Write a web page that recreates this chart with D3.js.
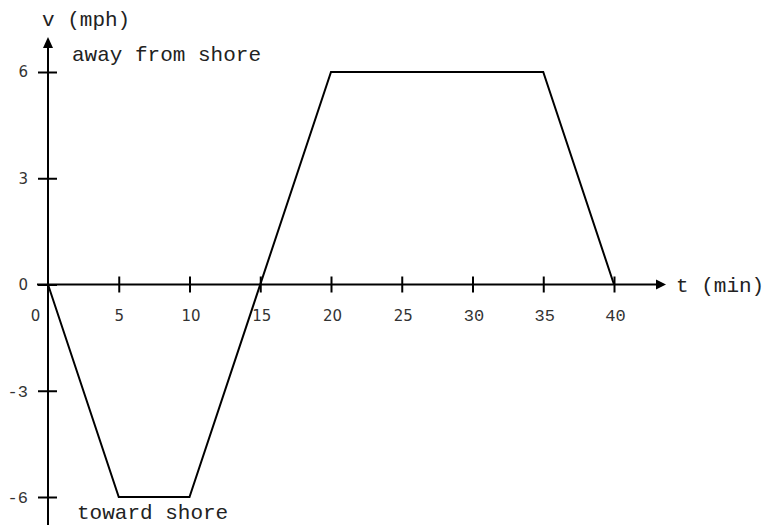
<!DOCTYPE html>
<html>
<head>
<meta charset="utf-8">
<script src="https://cdn.jsdelivr.net/npm/d3@7"></script>
<style>
body { margin:0; background:#fff; }
.tick text { font-family:"DejaVu Sans", sans-serif; font-size:15px; fill:#333; }
.lbl { font-family:"Liberation Mono", "Courier New", monospace; font-size:21px; fill:#222; }
</style>
</head>
<body>
<svg></svg>
<script>
var times = [0, 5, 10, 20, 35, 40]
var speeds = [0, -6, -6, 6, 6, 0]
var xTicks = [0, 5, 10, 15, 20, 25, 30, 35, 40]
var yTicks = [-6, -3, 0, 3, 6]

var screen = {width:765, height:525}

var svg = d3.select("svg")
    .attr("width", screen.width)
    .attr("height", screen.height)

var xScale = d3.scaleLinear().domain([0,40]).range([48,614])
var yScale = d3.scaleLinear().domain([-6,6]).range([497,72])

var x0 = xScale(0), y0 = yScale(0)

// axis lines with arrows
svg.append("line")
   .attr("x1", x0-11).attr("y1", y0)
   .attr("x2", 657).attr("y2", y0)
   .attr("stroke","black").attr("stroke-width",2)
svg.append("path")
   .attr("d","M656,"+(y0-5)+"L666,"+y0+"L656,"+(y0+5)+"Z")
   .attr("fill","black")
svg.append("line")
   .attr("x1", x0).attr("y1", 46)
   .attr("x2", x0).attr("y2", 525)
   .attr("stroke","black").attr("stroke-width",2)
svg.append("path")
   .attr("d","M"+(x0-5)+",48L"+x0+",37L"+(x0+5)+",48Z")
   .attr("fill","black")

// x axis
var xAxis = d3.axisBottom(xScale).tickValues(xTicks).tickSize(8)
var gx = svg.append("g")
   .attr("transform","translate(0,"+y0+")")
   .call(xAxis)
gx.select(".domain").remove()
gx.selectAll(".tick line")
  .attr("y1",-8).attr("stroke-width",2)
  .attr("opacity", function(d){ return d==0 ? 0 : 1 })
gx.selectAll(".tick text")
  .attr("y", 36).attr("dy", null)
  .attr("x", function(d){ return d==0 ? -13 : (d>=10 ? 1 : 0) })
  .style("font-family", function(d){ return d>=30 ? "'Liberation Mono', monospace" : null })
  .style("font-size", function(d){ return d>=30 ? "17px" : null })

// y axis
var yAxis = d3.axisLeft(yScale).tickValues(yTicks).tickSize(10)
var gy = svg.append("g")
   .attr("transform","translate("+x0+",0)")
   .call(yAxis)
gy.select(".domain").remove()
gy.selectAll(".tick line")
  .attr("x2",-10).attr("x1",9).attr("stroke-width",2)
gy.selectAll(".tick text")
  .attr("x",-20)
  .text(function(d){ return d<0 ? "-"+(-d) : d })
  .style("font-family", function(d){ return d<0 ? "'Liberation Mono', monospace" : null })
  .style("font-size", function(d){ return d<0 ? "17px" : null })

// velocity line
var lineGenerator = d3.line()
    .x(function(d,i){ return xScale(times[i]) })
    .y(function(d){ return yScale(d) })

svg.append("path")
   .datum(speeds)
   .attr("d", lineGenerator)
   .attr("fill","none")
   .attr("stroke","black")
   .attr("stroke-width",2)
   .attr("stroke-linejoin","miter")

// labels
svg.append("text").attr("class","lbl").attr("x",42).attr("y",26).text("v (mph)")
svg.append("text").attr("class","lbl").attr("x",72).attr("y",61).text("away from shore")
svg.append("text").attr("class","lbl").attr("x",676).attr("y",292).text("t (min)")
svg.append("text").attr("class","lbl").attr("x",77).attr("y",519).text("toward shore")
</script>
</body>
</html>
